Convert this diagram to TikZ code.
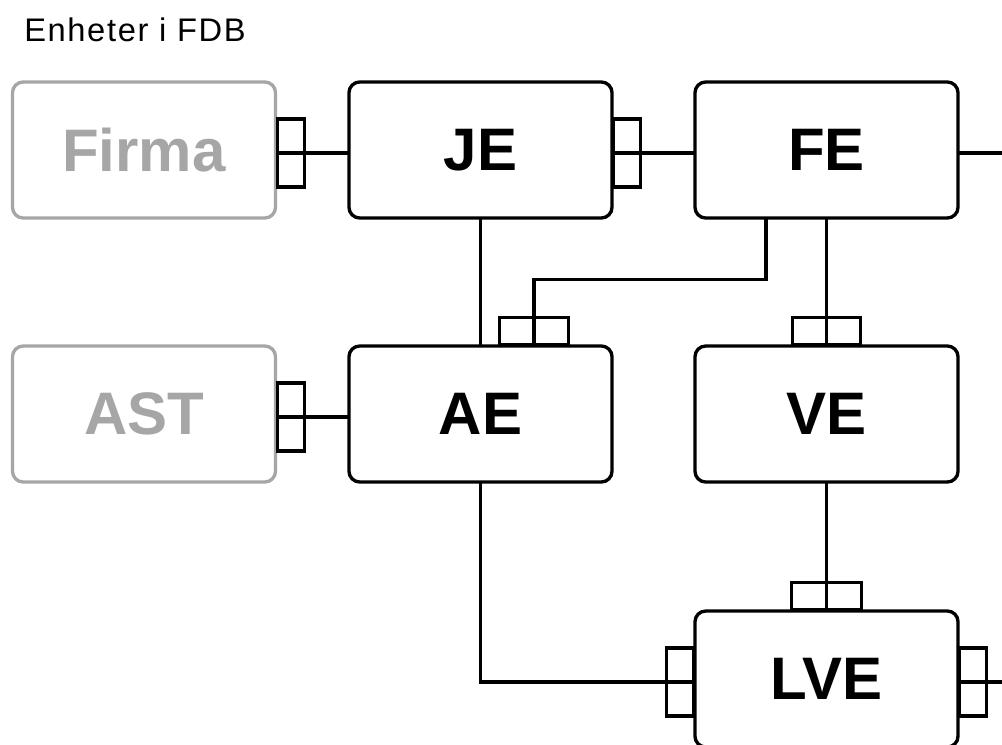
\documentclass[tikz,border=0pt]{standalone}
\usepackage{fontspec}
\setmainfont{Liberation Sans}
\newfontfamily\titlefont[LetterSpace=5]{Liberation Sans}
\definecolor{greyline}{RGB}{166,166,166}
\tikzset{
  unit/.style={draw, line width=2.5pt, rounded corners=8pt, fill=white,
    minimum width=197.25pt, minimum height=102pt, inner sep=0pt,
    font=\fontsize{45}{45}\selectfont\bfseries},
  activeunit/.style={unit, draw=black, text=black},
  greyunit/.style={unit, draw=greyline, text=greyline},
  link/.style={draw=black, line width=2.5pt, line cap=rect},
  port/.style={draw=black, line width=2.5pt}
}
\begin{document}
\begin{tikzpicture}[x=0.75pt,y=-0.75pt]
\useasboundingbox (0,0) rectangle (1002,744);
\clip (0,0) rectangle (1002,744);
\fill[white] (0,0) rectangle (1002,744);

\node[anchor=base west, inner sep=0pt, font=\titlefont\fontsize{24.5}{24.5}\selectfont] (title) at (24,41) {Enheter i FDB};

% units
\node[greyunit]   (firma) at (144,150)   {Firma};
\node[activeunit] (je)    at (480.5,150) {JE};
\node[activeunit] (fe)    at (826.5,150) {FE};
\node[greyunit]   (ast)   at (144,414)   {AST};
\node[activeunit] (ae)    at (480.5,414) {AE};
\node[activeunit] (ve)    at (826.5,414) {VE};
\node[activeunit] (lve)   at (826.5,679) {LVE};

\coordinate (feout)  at (1002,153);
\coordinate (lveout) at (1002,682);

% links
\draw[link] ([yshift=-2.25pt]firma.east) -- ([yshift=-2.25pt]je.west);
\draw[link] ([yshift=-2.25pt]je.east) -- ([yshift=-2.25pt]fe.west);
\draw[link] ([yshift=-2.25pt]fe.east) -- (feout);
\draw[link] ([yshift=-2.25pt]ast.east) -- ([yshift=-2.25pt]ae.west);
\draw[link] (je.south) -- (ae.north);
\draw[link] ([xshift=-45.4pt]fe.south) |- ([xshift=40pt,yshift=48.75pt]ae.north) -- ([xshift=40pt]ae.north);
\draw[link] (fe.south) -- (ve.north);
\draw[link] (ve.south) -- (lve.north);
\draw[link] (ae.south) |- ([yshift=-2.25pt]lve.west);
\draw[link] ([yshift=-2.25pt]lve.east) -- (lveout);

% ports (side tabs)
\draw[port] ([yshift=23.25pt]firma.east) rectangle ++(20.25pt,-51pt);
\draw[port] ([yshift=23.25pt]je.east) rectangle ++(20.25pt,-51pt);
\draw[port] ([yshift=23.25pt]ast.east) rectangle ++(20.25pt,-51pt);
\draw[port] ([yshift=23.25pt]lve.east) rectangle ++(20.25pt,-51pt);
\draw[port] ([yshift=23.25pt]lve.west) rectangle ++(-20.25pt,-51pt);
% ports (top tabs)
\draw[port] ([xshift=40pt-25.75pt]ae.north) rectangle ++(51.5pt,20.25pt);
\draw[port] ([xshift=-25.5pt]ve.north) rectangle ++(51pt,20.25pt);
\draw[port] ([xshift=-26.25pt]lve.north) rectangle ++(52.5pt,20.25pt);
\end{tikzpicture}
\end{document}
